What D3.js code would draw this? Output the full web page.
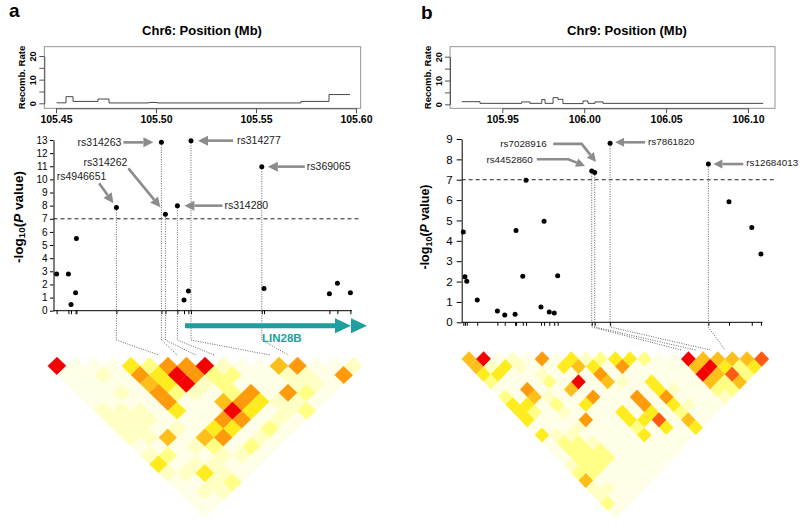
<!DOCTYPE html>
<html lang="en">
<head>
<meta charset="UTF-8">
<title>Regional association and LD plots</title>
<script src="https://cdn.jsdelivr.net/npm/d3@7"></script>
<style>
  body { margin: 0; background: #fff; }
  svg { font-family: "Liberation Sans", Arial, sans-serif; }
</style>
</head>
<body>
<svg id="fig" width="800" height="528"></svg>
<script>
// ---------- panel a : chr6 ----------
const xTicksA = [105.45, 105.50, 105.55, 105.60];
const logpTicksA = [0, 1, 2, 3, 4, 5, 6, 7, 8, 9, 10, 11, 12, 13];
const recombTicks = [0, 5, 10, 15, 20];
const recombPosA  = [105.4503, 105.4550, 105.4585, 105.4710, 105.4765, 105.4965, 105.5005, 105.5725, 105.5865, 105.5970];
const recombRateA = [0.2, 2.8, 0.8, 1.8, 0.15, 0.35, 0.15, 0.8, 3.7, 3.7];
const snpPosA  = [105.4503, 105.4562, 105.4575, 105.4598, 105.4602, 105.4802, 105.5027, 105.5047, 105.5107,
                  105.5140, 105.5162, 105.5175, 105.5529, 105.5540, 105.5867, 105.5907, 105.5972];
const snpLogPA = [2.8, 2.8, 0.48, 1.37, 5.5, 7.85, 12.82, 7.34, 8.0, 0.81, 1.5, 12.95, 10.97, 1.7, 1.3, 2.09, 1.37];
// [name, snp index]
const calloutsA = [["rs4946651", 5], ["rs314263", 6], ["rs314262", 7], ["rs314280", 8], ["rs314277", 11], ["rs369065", 12]];
const geneA = ["LIN28B", 105.5145, 105.6055];
const ldMarkersA = 18;
const ldOffsetA = 1;   // LD marker = snp index + offset
// [i, j, level]  (level 0..8, unlisted cells = 1)
const ldA = [
  [0,1,8],[4,5,4],[5,6,3],[6,7,6],[7,8,6],[8,9,8],[9,10,2],[12,13,5],[13,14,6],[16,17,2],
  [2,4,2],[4,6,6],[5,7,4],[6,8,8],[7,9,6],[8,10,3],[9,11,3],[15,17,6],[12,14,2],[13,15,2],
  [4,7,5],[5,8,4],[6,9,8],[8,11,3],[7,10,2],[12,15,2],[13,16,2],
  [2,6,2],[4,8,6],[5,9,3],[6,10,2],[8,12,3],[9,13,6],[11,15,6],[12,16,3],
  [4,9,6],[7,12,5],[8,13,6],[9,14,4],[11,16,2],[10,15,2],
  [0,6,2],[1,7,2],[2,8,2],[4,10,4],[7,13,8],[8,14,4],[11,17,3],[10,16,2],
  [0,7,2],[1,8,2],[2,9,2],[6,13,6],[7,14,6],[9,16,2],
  [0,8,2],[1,9,2],[5,13,4],[6,14,4],[8,16,3],[3,11,2],
  [0,9,2],[1,10,2],[2,11,5],[4,13,5],[5,14,6],[7,16,2],
  [4,14,3],[6,16,3],[3,13,2],
  [1,12,3],[0,11,2],[4,15,2],[5,16,2],
  [0,12,4],[2,14,2],[3,15,2],
  [2,15,4],[1,14,2],[0,13,2],[3,16,2],
  [3,17,3],[2,16,2],[1,16,2],[2,17,2]
];

// ---------- panel b : chr9 ----------
const xTicksB = [105.95, 106.00, 106.05, 106.10];
const logpTicksB = [0, 1, 2, 3, 4, 5, 6, 7, 8, 9];
const recombPosB  = [105.9252, 105.9364, 105.9618, 105.9669, 105.9741, 105.9761, 105.9810, 105.9840, 105.9870,
                     105.9993, 106.0023, 106.0066, 106.0115, 106.1093];
const recombRateB = [1.1, 0.4, 1.0, 0.4, 2.0, 0.4, 2.8, 2.1, 0.3, 1.4, 0.4, 1.0, 0.4, 0.4];
const snpPosB  = [105.9262, 105.9272, 105.9283, 105.9347, 105.9470, 105.9515, 105.9578, 105.9584, 105.9625,
                  105.9645, 105.9736, 105.9755, 105.9787, 105.9817, 105.9838, 106.0046, 106.0064, 106.0158,
                  106.0758, 106.0884, 106.1023, 106.1079];
const snpLogPB = [4.43, 2.24, 2.01, 1.09, 0.55, 0.36, 0.39, 4.51, 2.26, 6.97, 0.75, 4.96, 0.51, 0.46, 2.29,
                  7.43, 7.35, 8.79, 7.77, 5.92, 4.65, 3.35];
const calloutsB = [["rs4452860", 15], ["rs7028916", 16], ["rs7861820", 17], ["rs12684013", 18]];
const ldMarkersB = 22;
const ldOffsetB = 0;
const ldB = [
  [0,1,5],[1,2,8],[3,4,2],[5,6,6],[7,8,4],[8,9,2],[9,10,3],[10,11,4],[11,12,4],[12,13,3],
  [15,16,8],[16,17,5],[17,18,5],[18,19,5],[19,20,5],[20,21,7],
  [0,2,5],[2,4,4],[6,8,4],[7,9,5],[8,10,4],[10,12,6],[15,17,5],[16,18,8],[17,19,4],[18,20,3],[19,21,4],[1,3,2],[3,5,2],
  [0,3,4],[1,4,4],[8,11,6],[15,18,8],[16,19,5],[17,20,7],[18,21,3],[4,7,2],
  [0,4,3],[4,8,3],[6,10,8],[8,12,5],[11,15,4],[15,19,5],[17,21,5],[16,20,3],[9,13,2],
  [2,7,6],[5,10,5],[11,16,4],[15,20,3],[16,21,3],[12,17,2],
  [0,6,3],[2,8,5],[6,12,6],[9,15,6],[11,17,6],[15,21,2],[3,9,2],
  [0,7,4],[1,8,4],[5,12,4],[9,16,6],[11,18,4],[12,19,2],[3,10,3],
  [0,8,4],[1,9,3],[7,15,4],[9,17,4],[11,19,3],[3,11,2],
  [0,9,4],[4,13,6],[7,16,4],[8,17,4],[9,18,7],[11,20,5],
  [9,19,4],[11,21,4],[3,13,2],[7,17,3],
  [0,11,4],[7,18,4],[1,12,2],[2,13,2],
  [1,13,3],[2,14,3],[3,15,2],
  [2,15,3],[3,16,3],[1,14,3],
  [2,16,3],[3,17,3],[1,15,3],
  [1,16,3],[2,17,3],[0,15,2],
  [0,16,3],[1,17,3],
  [0,17,5],
  [0,18,2],[1,19,2],
  [0,19,2],
  [0,20,3]
];

const ldColors = ["#ffffff", "#ffffe8", "#ffffc4", "#ffff85", "#ffec1e", "#ffbf1a", "#ff9a0a", "#ff5a14", "#f50000"];
const arrowGrey = "#8c8c8c";
const teal = "#1e9e9e";

const svg = d3.select("#fig");
const ldColor = d3.scaleOrdinal().domain(d3.range(ldColors.length)).range(ldColors);

function arrow(g, pts, head, width) {
  const n = pts.length;
  const [xa, ya] = pts[n - 2], [xb, yb] = pts[n - 1];
  const ang = Math.atan2(yb - ya, xb - xa);
  const bx = xb - head * Math.cos(ang), by = yb - head * Math.sin(ang);
  const shaft = pts.slice(0, n - 1).concat([[bx, by]]);
  g.append("path").attr("d", d3.line()(shaft))
    .attr("fill", "none").attr("stroke", arrowGrey).attr("stroke-width", width);
  const hw = head * 0.5;
  const px = -Math.sin(ang) * hw, py = Math.cos(ang) * hw;
  g.append("path").attr("d", `M${xb},${yb}L${bx + px},${by + py}L${bx - px},${by - py}Z`).attr("fill", arrowGrey);
}

function drawPanel(p) {
  const g = svg.append("g");

  // panel letter + title
  g.append("text").attr("x", p.letter[1]).attr("y", p.letter[2]).attr("font-size", 19)
    .attr("font-weight", "bold").text(p.letter[0]);
  g.append("text").attr("x", p.title[1]).attr("y", 34.5).attr("text-anchor", "middle")
    .attr("font-size", 13).attr("font-weight", "bold").text(p.title[0]);

  // ---- recombination rate box ----
  const x = d3.scaleLinear().domain([p.xTicks[0], p.xTicks[p.xTicks.length - 1]]).range(p.xRange);
  const yr = d3.scaleLinear().domain([0, 20]).range(p.recombY);
  g.append("rect").attr("x", p.box[0]).attr("y", 46.7).attr("width", p.box[1] - p.box[0]).attr("height", 61.6)
    .attr("fill", "none").attr("stroke", "#888").attr("stroke-width", 0.9);
  g.append("path")
    .datum(d3.zip(p.recombPos, p.recombRate))
    .attr("d", d3.line().x(d => x(d[0])).y(d => yr(d[1])).curve(d3.curveStepAfter))
    .attr("fill", "none").attr("stroke", "#333").attr("stroke-width", 0.9);

  const ra = g.append("g").attr("transform", `translate(${p.box[0]},0)`)
    .call(d3.axisLeft(yr).tickValues(recombTicks).tickSize(5).tickSizeOuter(0)
      .tickFormat(d => d % 10 === 0 ? d : ""));
  ra.select(".domain").attr("stroke", "#555");
  ra.selectAll(".tick line").attr("stroke", "#555");
  ra.selectAll(".tick text").attr("transform", "rotate(-90)").attr("x", 0).attr("y", -8).attr("dy", 0)
    .attr("text-anchor", "middle").attr("font-size", 9).attr("font-weight", "bold").attr("font-family", null);
  g.append("text").attr("transform", `translate(${p.box[0] - 19.5},77.5) rotate(-90)`)
    .attr("text-anchor", "middle").attr("font-size", 9.5).attr("font-weight", "bold").text("Recomb. Rate");

  const xa = g.append("g").attr("transform", "translate(0,108.3)")
    .call(d3.axisBottom(x).tickValues(p.xTicks).tickSize(5).tickPadding(2.5).tickSizeOuter(0)
      .tickFormat(d3.format(".2f")));
  xa.select(".domain").attr("stroke", "#555");
  xa.selectAll(".tick line").attr("stroke", "#555");
  xa.selectAll(".tick text").attr("font-size", 10.5).attr("font-weight", "bold").attr("font-family", null);

  // ---- association scatter ----
  const y = d3.scaleLinear().domain([0, p.logpTicks[p.logpTicks.length - 1]]).range(p.scatterY);
  const ya = g.append("g").attr("transform", `translate(${p.yAxisX},0)`)
    .call(d3.axisLeft(y).tickValues(p.logpTicks).tickSize(p.tick).tickPadding(p.tickPad).tickSizeOuter(0));
  ya.selectAll(".tick text").attr("font-size", p.tickFont).attr("font-family", null);

  const xs = g.append("g").attr("transform", `translate(0,${y(0)})`)
    .call(d3.axisBottom(x).tickValues(p.snpPos).tickSize(3.5).tickFormat(""));
  xs.select(".domain").remove();
  g.append("line").attr("x1", p.yAxisX).attr("x2", x(p.snpPos[p.snpPos.length - 1]) + 1.5)
    .attr("y1", y(0)).attr("y2", y(0)).attr("stroke", "#000");

  g.append("line").attr("x1", p.yAxisX).attr("x2", p.box[1]).attr("y1", y(7)).attr("y2", y(7))
    .attr("stroke", "#222").attr("stroke-dasharray", "4,3");

  const yl = g.append("text").attr("transform", `translate(${p.yLabelX},${p.yLabelY}) rotate(-90)`)
    .attr("text-anchor", "middle").attr("font-size", p.yLabelFont).attr("font-weight", "bold");
  yl.append("tspan").text("-log");
  yl.append("tspan").attr("font-size", p.yLabelFont * 0.72).attr("dy", p.yLabelFont * 0.22).text("10");
  yl.append("tspan").attr("dy", -p.yLabelFont * 0.22).text("(");
  yl.append("tspan").attr("font-style", "italic").text("P");
  yl.append("tspan").text(" value)");

  // ---- LD triangle ----
  const n = p.ldMarkers;
  const lx = d3.scaleLinear().domain([0, n - 1]).range([p.ld.x0, p.ld.x0 + (n - 1) * p.ld.w]);
  const ly = d3.scaleLinear().domain([0, n - 1]).range([p.ld.top, p.ld.top + (n - 1) * p.ld.h]);
  const level = new Map(p.ldCells.map(([i, j, v]) => [i + "," + j, v]));
  const cells = [];
  for (let i = 0; i < n; i++) for (let j = i + 1; j < n; j++)
    cells.push({ i, j, v: level.has(i + "," + j) ? level.get(i + "," + j) : 1 });
  g.append("g").selectAll("path").data(cells).join("path")
    .attr("d", c => {
      const m = (c.i + c.j) / 2, d = c.j - c.i;
      return `M${lx(m)},${ly(d - 1)}L${lx(m + 0.5)},${ly(d)}L${lx(m)},${ly(d + 1)}L${lx(m - 0.5)},${ly(d)}Z`;
    })
    .attr("fill", c => ldColor(c.v)).attr("stroke", c => ldColor(c.v)).attr("stroke-width", 0.4);

  // dotted connectors from highlighted SNPs to LD markers
  const conn = d3.line();
  p.callouts.forEach(([name, k]) => {
    const px = x(p.snpPos[k]), py = y(p.snpLogP[k]);
    g.append("path")
      .attr("d", conn([[px, py], [px, p.connBreak], [lx(k + p.ldOffset), p.connEnd]]))
      .attr("fill", "none").attr("stroke", "#555").attr("stroke-width", 0.9).attr("stroke-dasharray", "1,1.4");
  });

  // points
  g.append("g").selectAll("circle").data(d3.zip(p.snpPos, p.snpLogP)).join("circle")
    .attr("cx", d => x(d[0])).attr("cy", d => y(d[1])).attr("r", 2.5).attr("fill", "#000");

  // callout arrows + labels
  p.callouts.forEach(([name, k], idx) => {
    const px = x(p.snpPos[k]), py = y(p.snpLogP[k]);
    const L = p.calloutLayout[idx];
    arrow(g, L.arrow.map(([dx, dy]) => [px + dx, py + dy]), p.head, 2.6);
    g.append("text").attr("x", px + L.label[0]).attr("y", py + L.label[1]).attr("dy", "0.35em")
      .attr("text-anchor", L.label[2]).attr("font-size", p.calloutFont).attr("fill", "#222").text(name);
  });

  // gene
  if (p.gene) {
    const [gname, g0, g1] = p.gene, gy = p.geneY;
    const xe = x(g1), hl = 16, hh = 7.5;
    g.append("line").attr("x1", x(g0)).attr("x2", xe - 2 * hl + 1).attr("y1", gy).attr("y2", gy)
      .attr("stroke", teal).attr("stroke-width", 5);
    [xe - hl, xe].forEach(tip => {
      g.append("path").attr("d", `M${tip},${gy}L${tip - hl},${gy - hh}L${tip - hl},${gy + hh}Z`).attr("fill", teal);
    });
    g.append("text").attr("x", x(g0) + 77).attr("y", gy + 16.5).attr("font-size", 11.5)
      .attr("font-weight", "bold").attr("fill", teal).text(gname);
  }
}

drawPanel({
  letter: ["a", 9, 17], title: ["Chr6: Position (Mb)", 202],
  xTicks: xTicksA, xRange: [56, 356], box: [44.3, 360.7], recombY: [103.3, 56],
  recombPos: recombPosA, recombRate: recombRateA,
  logpTicks: logpTicksA, scatterY: [310.7, 140], yAxisX: 53.5, tick: 3.5, tickPad: 2.5, tickFont: 10,
  yLabelX: 22.5, yLabelY: 217, yLabelFont: 13.5,
  snpPos: snpPosA, snpLogP: snpLogPA, callouts: calloutsA,
  calloutLayout: [
    { arrow: [[-17.3, -24.4], [-3, -4.4]], label: [-10, -31.7, "end"] },
    { arrow: [[-38, 0], [-8, 0]], label: [-40, 0, "end"] },
    { arrow: [[-37, -46], [-5, -7]], label: [-38, -52, "end"] },
    { arrow: [[45, 0], [7, 0]], label: [47, 0, "start"] },
    { arrow: [[42, 0], [7, 0]], label: [46, 0, "start"] },
    { arrow: [[43, 0], [6, 0]], label: [45, 0, "start"] }
  ],
  head: 10, calloutFont: 10.5, connBreak: 340, connEnd: 355,
  gene: geneA, geneY: 325.7,
  ldMarkers: ldMarkersA, ldOffset: ldOffsetA, ldCells: ldA,
  ld: { x0: 47.75, w: 18.5, top: 357, h: 8.94 }
});

drawPanel({
  letter: ["b", 421, 19], title: ["Chr9: Position (Mb)", 627],
  xTicks: xTicksB, xRange: [502.3, 748], box: [450, 775], recombY: [104.3, 56.7],
  recombPos: recombPosB, recombRate: recombRateB,
  logpTicks: logpTicksB, scatterY: [322.3, 139], yAxisX: 461.7, tick: 5, tickPad: 4, tickFont: 11.5,
  yLabelX: 429, yLabelY: 227, yLabelFont: 12.5,
  snpPos: snpPosB, snpLogP: snpLogPB, callouts: calloutsB,
  calloutLayout: [
    { arrow: [[-55, -11.7], [-23.4, -11.7], [-6.7, -5]], label: [-59, -11.7, "end"] },
    { arrow: [[-41.4, -28.7], [-13, -28.7], [1.3, -10.7]], label: [-48, -28.7, "end"] },
    { arrow: [[35, -1], [5, -1]], label: [38, -2, "start"] },
    { arrow: [[35, 0], [5, 0]], label: [38, -1, "start"] }
  ],
  head: 9, calloutFont: 9.8, connBreak: 327, connEnd: 350,
  gene: null,
  ldMarkers: ldMarkersB, ldOffset: ldOffsetB, ldCells: ldB,
  ld: { x0: 461.7, w: 14.63, top: 351.4, h: 7.6 }
});
</script>
</body>
</html>
